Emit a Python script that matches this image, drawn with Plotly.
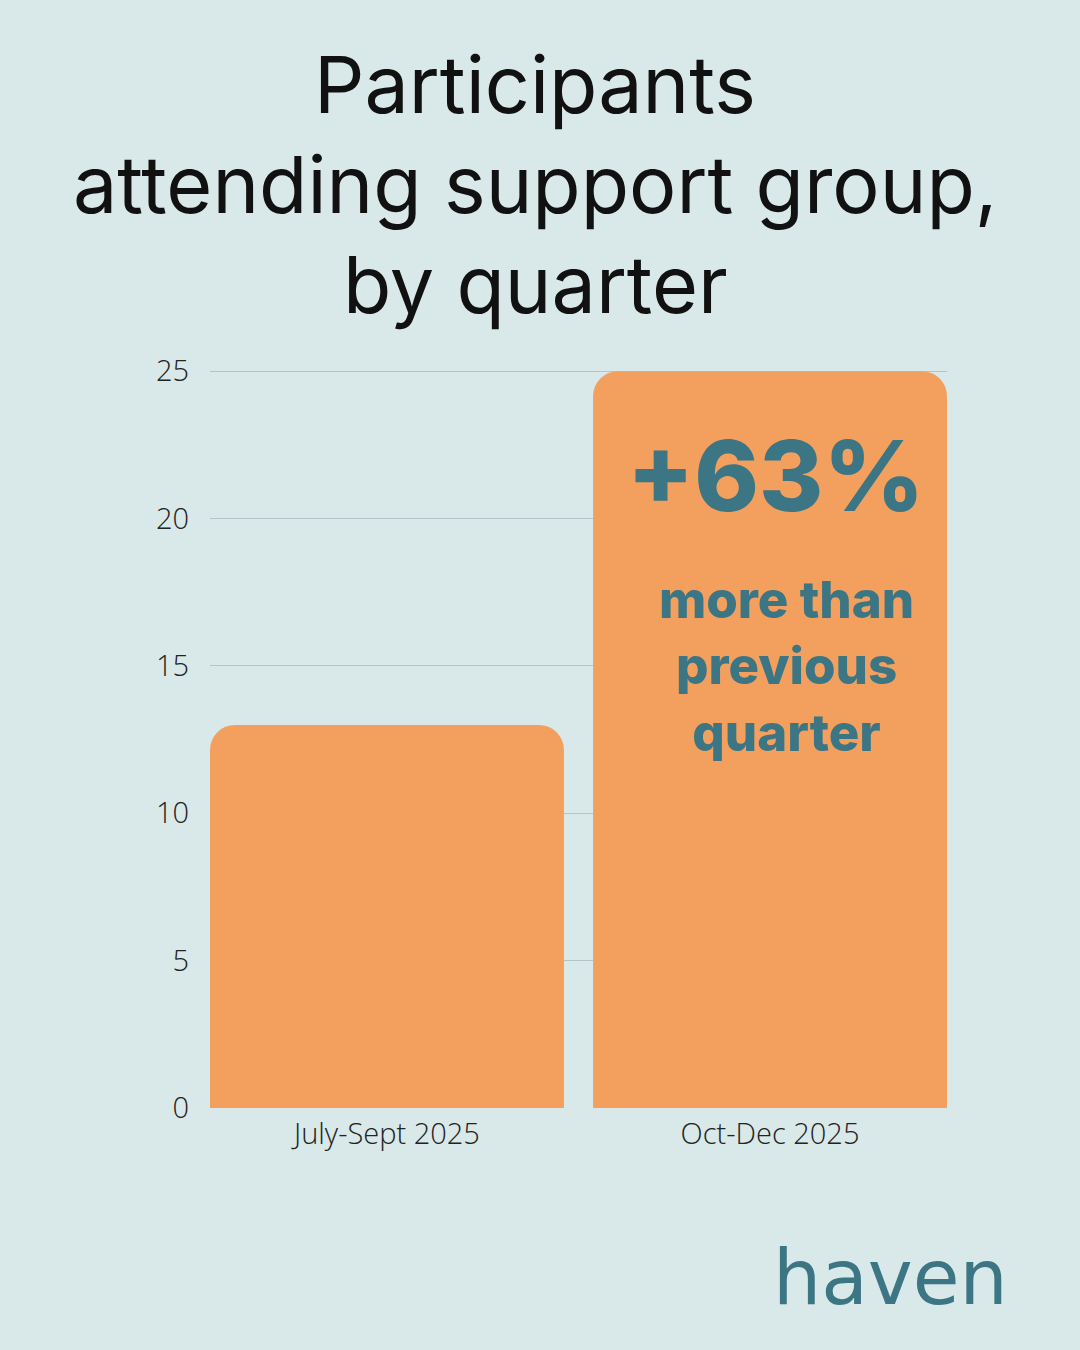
import plotly.graph_objects as go

categories = ["July-Sept 2025", "Oct-Dec 2025"]
participants = [13, 25]
y_ticks = [0, 5, 10, 15, 20, 25]
title_lines = ["Participants", "attending support group,", "by quarter"]
callout_big = "+63%"
callout_small = ["more than", "previous", "quarter"]
logo_text = "haven"

BG = "#D9E8E8"
BAR = "#F3A05F"
TEAL = "#3C7583"

W, H = 1080, 1350
ML, MR, MT, MB = 210, 133, 370, 241
PW, PH = W - ML - MR, H - MT - MB


def px_x(px):
    return (px - ML) / PW


def px_y(py):
    return (H - MB - py) / PH


fig = go.Figure()
fig.add_trace(go.Bar(
    x=[0, 1], y=participants, width=0.924,
    marker=dict(color=BAR, line=dict(width=0), cornerradius=25),
    hoverinfo="skip",
))

fig.update_layout(
    width=W, height=H,
    paper_bgcolor=BG, plot_bgcolor=BG,
    margin=dict(l=ML, r=MR, t=MT, b=MB),
    showlegend=False,
    font=dict(family="Open Sans", color="#222222"),
)
fig.update_xaxes(
    range=[-0.462, 1.462], tickvals=[0, 1], ticktext=categories,
    showgrid=False, zeroline=False, showline=False,
    tickfont=dict(family="Open Sans", size=29, color="#222222", weight=300),
    ticks="", ticklabelstandoff=5,
)
fig.update_yaxes(
    range=[-0.03, 25.04], tickvals=y_ticks,
    showgrid=True, gridcolor="#B3C6C7", gridwidth=1.3,
    zeroline=False, showline=False, ticks="",
    tickfont=dict(family="Open Sans", size=29, color="#222222", weight=300),
    ticklabelstandoff=20,
)

# Title lines
for line, cy in zip(title_lines, [84, 184, 284]):
    fig.add_annotation(
        x=px_x(535), y=px_y(cy), xref="paper", yref="paper", text=line,
        showarrow=False, xanchor="center", yanchor="middle",
        font=dict(family="Inter", size=79, color="#111111", weight=400),
    )

fig.add_annotation(
    x=px_x(775), y=21.46, xref="paper", yref="y", text=callout_big,
    showarrow=False, xanchor="center", yanchor="middle",
    font=dict(family="Inter", size=98, color=TEAL, weight=800),
)
fig.add_annotation(
    x=px_x(786), y=15.0, xref="paper", yref="y", text="<br>".join(callout_small),
    showarrow=False, xanchor="center", yanchor="middle", align="center",
    font=dict(family="Inter", size=51, color=TEAL, weight=800),
)
fig.add_annotation(
    x=px_x(890), y=px_y(1277), xref="paper", yref="paper", text=logo_text,
    showarrow=False, xanchor="center", yanchor="middle",
    font=dict(family="DejaVu Sans", size=76, color=TEAL),
)

fig.write_html("out.html", config={"displayModeBar": False},
               post_script="document.body.style.margin='0';")
